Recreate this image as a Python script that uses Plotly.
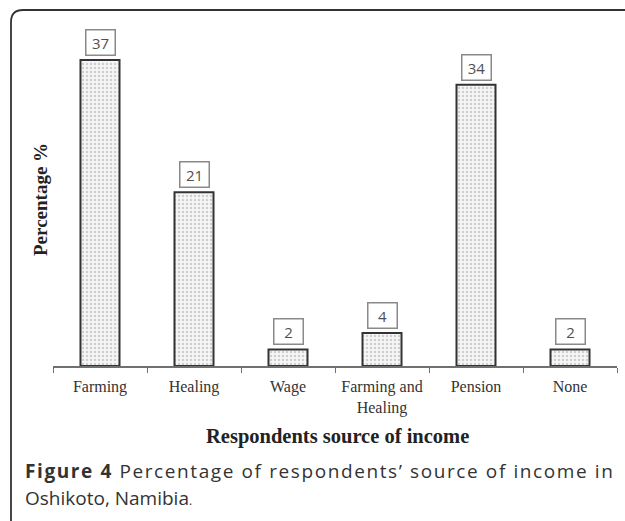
import plotly.graph_objects as go

categories = ["Farming", "Healing", "Wage", "Farming and<br>Healing", "Pension", "None"]
values = [37, 21, 2, 4, 34, 2]
value_labels = ["37", "21", "2", "4", "34", "2"]

W, H = 625, 521
L, R, T, B = 53, 8, 10, 155
PW, PH = W - L - R, H - T - B
YMAX = PH / 8.27


def px(x):
    return (x - L) / PW


def py(y):
    return (H - B - y) / PH


fig = go.Figure()
fig.add_trace(go.Bar(
    x=categories, y=values,
    marker=dict(color="white",
                line=dict(color="#333333", width=2),
                pattern=dict(shape=".", fgcolor="#a8a8a8", bgcolor="#f6f6f6",
                             size=4, solidity=0.3)),
    hoverinfo="skip",
))

annotations = []
for c, v, t in zip(categories, values, value_labels):
    annotations.append(dict(
        x=c, y=v, xref="x", yref="y", text=t, showarrow=False,
        yanchor="bottom", yshift=4,
        font=dict(family="Open Sans", size=15, color="#505050"),
        bordercolor="#8a8a8a", borderwidth=1.5, borderpad=1,
        width=26, height=22, bgcolor="white",
    ))

annotations.append(dict(
    x=px(40), y=py(200), xref="paper", yref="paper",
    text="<b>Percentage %</b>", textangle=-90, showarrow=False,
    xanchor="center", yanchor="middle",
    font=dict(family="Liberation Serif", size=19, color="#222222"),
))
annotations.append(dict(
    x=px(337), y=py(436), xref="paper", yref="paper",
    text="<b>Respondents source of income</b>", showarrow=False,
    xanchor="center", yanchor="middle",
    font=dict(family="Liberation Serif", size=20.5, color="#222222"),
))
annotations.append(dict(
    x=px(23), y=py(471), xref="paper", yref="paper",
    text=("<span style='letter-spacing:1.6px'><b>Figure 4</b> Percentage of "
          "respondents’ source of income in</span>"),
    showarrow=False, xanchor="left", yanchor="middle",
    font=dict(family="Open Sans", size=19, color="#333333"),
))
annotations.append(dict(
    x=px(23), y=py(498), xref="paper", yref="paper",
    text="Oshikoto, Namibia<span style='font-size:12px'>.</span>",
    showarrow=False, xanchor="left", yanchor="middle",
    font=dict(family="Open Sans", size=19, color="#333333"),
))

frame_path = (
    f"M {px(11)},{py(540)} L {px(11)},{py(22)} "
    f"Q {px(11)},{py(10)} {px(23)},{py(10)} L {px(640)},{py(10)}"
)

fig.update_layout(
    width=W, height=H,
    margin=dict(l=L, r=R, t=T, b=B, pad=0),
    paper_bgcolor="white", plot_bgcolor="white",
    showlegend=False,
    bargap=0.585,
    annotations=annotations,
    shapes=[dict(type="path", path=frame_path, xref="paper", yref="paper",
                 line=dict(color="#333333", width=1.8))],
    xaxis=dict(
        type="category", range=[-0.5, 5.5],
        showline=True, linecolor="#707070", linewidth=1.5,
        ticks="outside", ticklen=5, tickcolor="#707070", tickwidth=1.2,
        tickson="boundaries", showgrid=False, zeroline=False,
        tickfont=dict(family="Liberation Serif", size=16, color="#333333"),
        ticklabelstandoff=5,
    ),
    yaxis=dict(
        range=[0, YMAX], visible=False, showgrid=False, zeroline=False,
    ),
)

fig.write_html("out.html", config={"displayModeBar": False},
               post_script="document.body.style.margin='0px';")
